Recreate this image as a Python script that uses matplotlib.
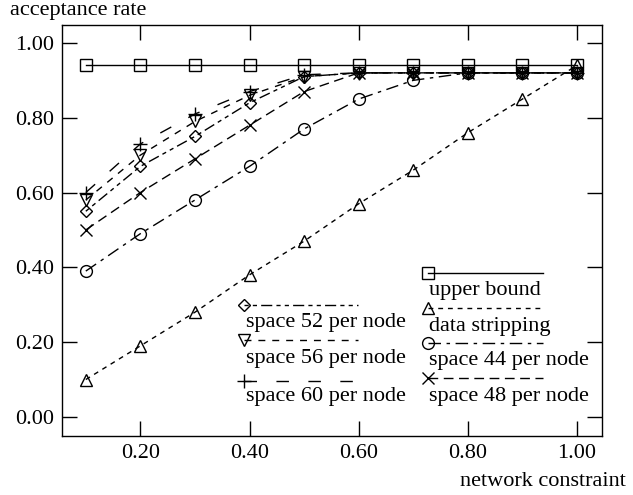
import matplotlib
matplotlib.use("Agg")
import matplotlib.pyplot as plt

plt.rcParams['font.family'] = ['Liberation Serif', 'DejaVu Serif']
plt.rcParams['font.size'] = 16

x = [0.1, 0.2, 0.3, 0.4, 0.5, 0.6, 0.7, 0.8, 0.9, 1.0]
upper_bound = [0.94, 0.94, 0.94, 0.94, 0.94, 0.94, 0.94, 0.94, 0.94, 0.94]
data_stripping = [0.10, 0.19, 0.28, 0.38, 0.47, 0.57, 0.66, 0.76, 0.85, 0.94]
space44 = [0.39, 0.49, 0.58, 0.67, 0.77, 0.85, 0.90, 0.92, 0.92, 0.92]
space48 = [0.50, 0.60, 0.69, 0.78, 0.87, 0.92, 0.92, 0.92, 0.92, 0.92]
space52 = [0.55, 0.67, 0.75, 0.84, 0.91, 0.92, 0.92, 0.92, 0.92, 0.92]
space56 = [0.58, 0.70, 0.79, 0.86, 0.91, 0.92, 0.92, 0.92, 0.92, 0.92]
space60 = [0.60, 0.73, 0.81, 0.87, 0.915, 0.92, 0.92, 0.92, 0.92, 0.92]

xticks = [0.2, 0.4, 0.6, 0.8, 1.0]
yticks = [0.0, 0.2, 0.4, 0.6, 0.8, 1.0]

series = [
    ("upper bound", upper_bound, 's', '-'),
    ("data stripping", data_stripping, '^', (0, (3.5, 3.5))),
    ("space 44 per node", space44, 'o', (0, (9, 4, 2.5, 4))),
    ("space 48 per node", space48, 'x', (0, (7, 4))),
    ("space 52 per node", space52, 'D', (0, (3, 3, 3, 3, 8, 3))),
    ("space 56 per node", space56, 'v', (0, (5, 5))),
    ("space 60 per node", space60, '+', (0, (9, 14))),
]

fig = plt.figure(figsize=(6.33, 4.95), dpi=100)
ax = fig.add_axes([62/633, 1-436/495, 540/633, 411/495])

msize = {'s': 8, '^': 8, 'o': 8.5, 'x': 9, 'D': 6.5, 'v': 8, '+': 10}
for label, y, m, ls in series:
    ax.plot(x, y, color='black', lw=1.0, linestyle=ls, marker=m,
            markersize=msize[m], markerfacecolor='none', markeredgecolor='black',
            markeredgewidth=1.0)

# custom legend (gnuplot style: sample line with marker at left, text below)
def px2ax(px, py):
    return (px - 62) / 540, (436 - py) / 411

legend_right = [
    (series[0], 273, 290),
    (series[1], 308, 327),
    (series[2], 343, 360),
    (series[3], 378, 396),
]
legend_left = [
    (series[4], 305, 323),
    (series[5], 340, 358),
    (series[6], 381, 397),
]
for (label, y, m, ls), ly, ty in legend_right:
    x0, y0 = px2ax(428, ly)
    x1, _ = px2ax(543, ly)
    ax.plot([x0, x1], [y0, y0], transform=ax.transAxes, color='black', lw=1.0,
            linestyle=ls, marker=m, markevery=[0], markersize=msize[m],
            markerfacecolor='none', markeredgecolor='black', clip_on=False)
    tx, tyy = px2ax(429, ty)
    ax.text(tx, tyy, label, transform=ax.transAxes, ha='left', va='center')
for (label, y, m, ls), ly, ty in legend_left:
    x0, y0 = px2ax(244, ly)
    x1, _ = px2ax(358, ly)
    ax.plot([x0, x1], [y0, y0], transform=ax.transAxes, color='black', lw=1.0,
            linestyle=ls, marker=m, markevery=[0], markersize=msize[m],
            markerfacecolor='none', markeredgecolor='black', clip_on=False)
    tx, tyy = px2ax(246, ty)
    ax.text(tx, tyy, label, transform=ax.transAxes, ha='left', va='center')

ax.set_xlim(0.0564, 1.0458)
ax.set_ylim(-0.051, 1.048)
ax.set_xticks(xticks)
ax.set_yticks(yticks)
ax.set_xticklabels([f"{v:.2f}" for v in xticks])
ax.set_yticklabels([f"{v:.2f}" for v in yticks])
ax.tick_params(direction='in', length=11, width=1.0, top=True, right=True,
               labelsize=16, pad=6)
for s in ax.spines.values():
    s.set_linewidth(1.0)

fig.text(10/633, 1-15/495, "acceptance rate", ha='left', va='baseline', fontsize=16)
fig.text(626/633, 1-486/495, "network constraint", ha='right', va='baseline', fontsize=16)

fig.savefig("out.png", dpi=100)
